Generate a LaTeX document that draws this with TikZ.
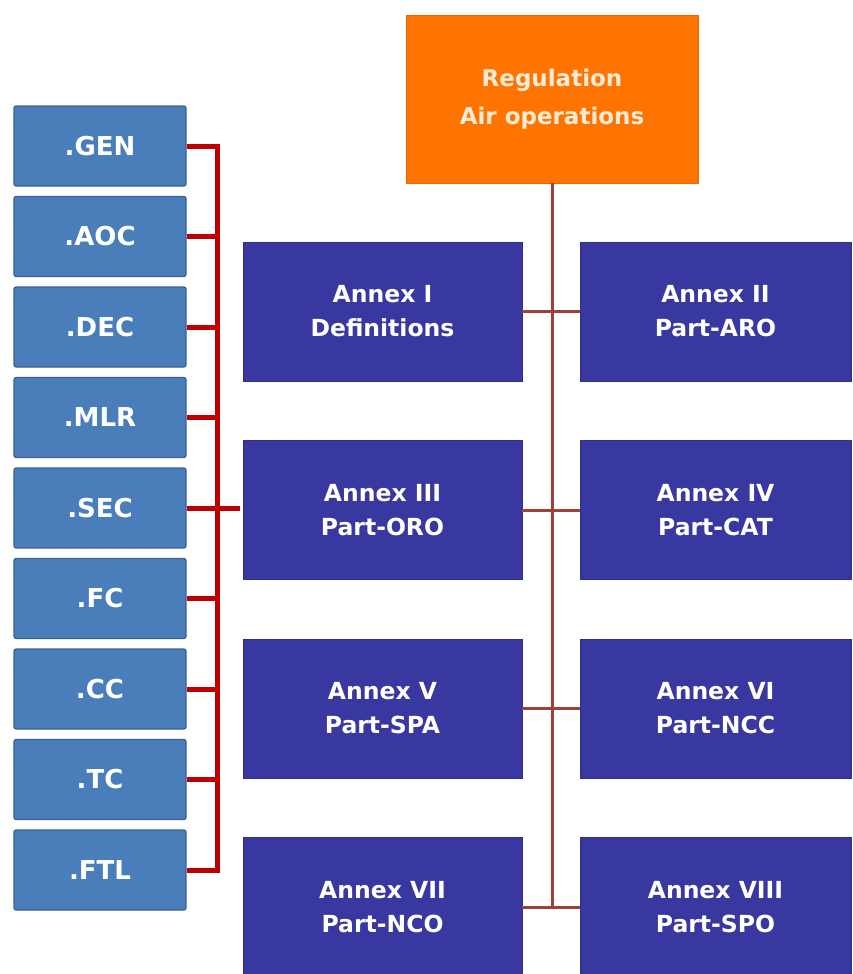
\documentclass[tikz,border=0pt]{standalone}
\usepackage{fontspec}
\newfontfamily\boxfont{DejaVu Sans}
\definecolor{regorange}{RGB}{255,116,0}
\definecolor{regtext}{RGB}{252,236,214}
\definecolor{annexblue}{RGB}{57,55,160}
\definecolor{tagblue}{RGB}{74,126,187}
\definecolor{tagedge}{RGB}{58,98,146}
\definecolor{linkbrown}{RGB}{160,64,58}
\definecolor{bracketred}{RGB}{192,0,0}

\begin{document}
\begin{tikzpicture}[x=1pt,y=-1pt,
    reg/.style={rectangle, fill=regorange, draw=regorange!90!black, minimum width=292pt, minimum height=168pt, text=regtext, align=center, font=\boxfont\bfseries\fontsize{23}{38}\selectfont},
    annex/.style={rectangle, fill=annexblue, draw=annexblue!85!black, minimum width=#1, minimum height=139pt, text=white, align=center, font=\boxfont\bfseries\fontsize{23.5}{34}\selectfont},
    tag/.style={rectangle, rounded corners=2pt, fill=tagblue, draw=tagedge, line width=1.2pt, minimum width=172pt, minimum height=80pt, text=white, font=\boxfont\bfseries\fontsize{26}{30}\selectfont},
    link/.style={draw=linkbrown, line width=3pt},
    bracket/.style={draw=bracketred, line width=5pt}]
    \useasboundingbox (0,0) rectangle (852,974);

    \node [reg] (reg) at (552,99) {Regulation\\Air operations};

    \node [annex=279pt] (a1) at (382.5,311.5) {Annex I\\Definitions};
    \node [annex=271pt] (a2) at (715.5,311.5) {Annex II\\Part-ARO};
    \node [annex=279pt] (a3) at (382.5,510) {Annex III\\Part-ORO};
    \node [annex=271pt] (a4) at (715.5,510) {Annex IV\\Part-CAT};
    \node [annex=279pt] (a5) at (382.5,708.5) {Annex V\\Part-SPA};
    \node [annex=271pt] (a6) at (715.5,708.5) {Annex VI\\Part-NCC};
    \node [annex=279pt] (a7) at (382.5,907) {Annex VII\\Part-NCO};
    \node [annex=271pt] (a8) at (715.5,907) {Annex VIII\\Part-SPO};

    \draw [link] (reg.south) -- (reg.south |- a7.east);
    \foreach \l/\r in {a1/a2, a3/a4, a5/a6, a7/a8}
        \draw [link] (\l.east) -- (\r.west);

    \foreach \name [count=\i from 0] in {GEN,AOC,DEC,MLR,SEC,FC,CC,TC,FTL}
        \node [tag] (\name) at (100,146+90.5*\i) {.\name};

    \coordinate (top) at (217,146);
    \coordinate (bottom) at (217,870);
    \draw [bracket, line join=miter] (GEN.east) -- (top) -- (bottom) -- (FTL.east);
    \foreach \name in {AOC,DEC,MLR,FC,CC,TC}
        \draw [bracket] (\name.east) -- (\name.east -| top);
    \draw [bracket] (SEC.east) -- ([xshift=-3pt]SEC.east -| a3.west);
\end{tikzpicture}
\end{document}
